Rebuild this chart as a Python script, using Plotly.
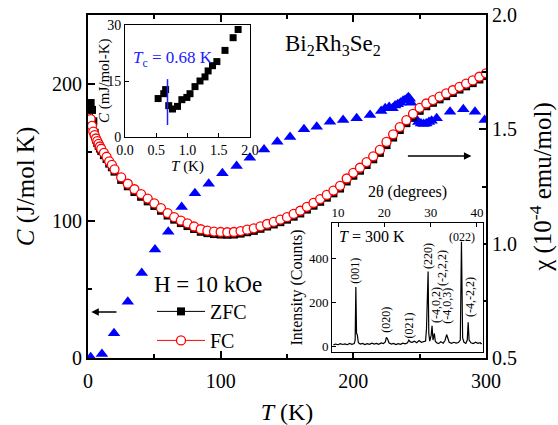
import plotly.graph_objects as go

FONT = "Times New Roman, Liberation Serif, serif"

# ---------------- main data ----------------
# Specific heat C (J/mol K) vs T (K)
T_C = [2, 10.5, 19.6, 30, 40.5, 50.5, 60.5, 70.6, 80.6, 91, 101.3, 112, 122, 132.7, 142.7,
       152.3, 162.8, 172.4, 182.4, 192.3, 202.5, 212.6, 221, 224, 227, 229.5, 231.5, 233.5,
       235.5, 237.5, 239, 240.5, 241.5, 242.5, 243.5, 245, 247, 249, 251, 253, 255, 257, 259,
       262.8, 272.9, 282.9, 291.7, 299]
C_val = [0.5, 3, 18, 41, 62, 79, 92, 110, 120, 127, 134.6, 140, 146, 152, 157.7,
         161, 166.7, 168.6, 172.2, 173.5, 174.7, 177.1, 180, 182, 183, 182, 184, 185,
         186, 187.5, 188, 189, 190, 189, 186, 177, 174, 172, 171, 170.5, 171, 172, 173,
         174.7, 179.5, 181.3, 179.5, 173.5]

# Susceptibility chi (1e-4 emu/mol) vs T (K)
T_chi = [2, 3, 4, 5, 6, 7, 8, 9, 10, 12, 14, 16, 18, 20, 25, 30, 35, 40, 45, 50, 55, 60, 65,
         70, 75, 80, 85, 90, 95, 100, 105, 110, 115, 120, 125, 130, 135, 140, 145, 150, 155,
         160, 165, 170, 175, 180, 185, 190, 195, 200, 205, 210, 215, 220, 225, 230, 235, 240,
         245, 250, 255, 260, 265, 270, 275, 280, 285, 290, 295, 300]
chi_FC = [1.545, 1.515, 1.49, 1.475, 1.46, 1.448, 1.436, 1.425, 1.415, 1.397, 1.38, 1.36,
          1.345, 1.325, 1.29, 1.262, 1.238, 1.217, 1.197, 1.176, 1.155, 1.134, 1.116, 1.101,
          1.089, 1.075, 1.063, 1.057, 1.053, 1.051, 1.05, 1.051, 1.055, 1.061, 1.067, 1.076,
          1.086, 1.095, 1.105, 1.116, 1.13, 1.144, 1.161, 1.178, 1.195, 1.213, 1.232, 1.253,
          1.285, 1.31, 1.332, 1.357, 1.382, 1.41, 1.445, 1.478, 1.51, 1.54, 1.568, 1.594,
          1.613, 1.628, 1.643, 1.657, 1.671, 1.686, 1.70, 1.714, 1.73, 1.745]
chi_ZFC = [1.615, 1.585, 1.535, 1.485, 1.455, 1.44, 1.428, 1.416, 1.405, 1.387, 1.37, 1.35,
           1.334, 1.315, 1.279, 1.251, 1.226, 1.205, 1.185, 1.165, 1.144, 1.123, 1.105, 1.09,
           1.077, 1.064, 1.052, 1.046, 1.042, 1.04, 1.039, 1.04, 1.044, 1.05, 1.056, 1.065,
           1.075, 1.084, 1.094, 1.105, 1.118, 1.132, 1.149, 1.166, 1.183, 1.201, 1.22, 1.241,
           1.272, 1.297, 1.319, 1.344, 1.369, 1.397, 1.431, 1.464, 1.497, 1.527, 1.555, 1.581,
           1.601, 1.616, 1.631, 1.645, 1.659, 1.674, 1.688, 1.702, 1.718, 1.733]

# ---------------- inset 1: low-T specific heat ----------------
T_low = [0.53, 0.62, 0.65, 0.70, 0.76, 0.84, 0.91, 0.99, 1.04, 1.12, 1.20, 1.28, 1.33, 1.40,
         1.47, 1.60, 1.73, 1.81]
C_low = [10.3, 11.6, 12.7, 8.4, 7.5, 8.2, 10.0, 10.6, 11.6, 13.5, 15.0, 16.1, 17.7, 19.1,
         20.2, 23.2, 26.6, 28.8]
Tc = 0.68

# ---------------- inset 2: XRD ----------------
two_theta = [9.0, 9.5, 10.0, 10.5, 11.0, 11.5, 12.0, 12.5, 13.0, 13.5, 13.7, 13.85, 14.0, 14.15,
             14.4, 14.8, 15.3, 15.8, 16.3, 16.8, 17.3, 17.8, 18.3, 18.8, 19.3, 19.8, 20.2,
             20.45, 20.7, 21.0, 21.5, 22.0, 22.5, 23.0, 23.5, 24.0, 24.5, 25.0, 25.3, 25.6,
             26.0, 26.5, 27.0, 27.5, 28.0, 28.5, 28.9, 29.1, 29.3, 29.45, 29.6, 29.8, 30.1,
             30.3, 30.5, 30.8, 31.0, 31.3, 31.7, 32.2, 32.7, 33.1, 33.45, 33.7, 34.0, 34.5,
             35.0, 35.5, 36.0, 36.4, 36.65, 36.9, 37.2, 37.6, 37.9, 38.1, 38.3, 38.7, 39.2,
             39.7, 40.2, 40.7, 41.0]
counts = [8, 12, 9, 14, 10, 13, 9, 15, 11, 14, 30, 270, 60, 55,
          18, 12, 15, 10, 14, 11, 16, 12, 15, 11, 17, 14, 22,
          42, 35, 18, 12, 15, 10, 14, 11, 16, 13, 18, 30, 22,
          20, 25, 18, 28, 20, 24, 26, 80, 200, 340, 60, 25, 50,
          95, 30, 60, 25, 18, 14, 22, 16, 28, 55, 35, 20, 15,
          20, 16, 19, 30, 475, 40, 20, 15, 30, 110, 30, 18, 14,
          20, 15, 18, 12]
peak_labels = ["(001)", "(020)", "(021)", "(220)", "(-4,0,2)", "(-2,2,2)", "(-4,0,3)", "(-4,-2,2)"]
peak_label_x = [13.7, 20.5, 25.3, 29.4, 31.0, 32.4, 33.5, 38.5]
peak_label_y = [345, 120, 95, 410, 190, 355, 185, 225]

fig = go.Figure()

fig.add_trace(go.Scatter(x=T_C, y=C_val, mode="markers", showlegend=False,
                         marker=dict(symbol="triangle-up", size=11, color="#0000ff"),
                         xaxis="x", yaxis="y"))
fig.add_trace(go.Scatter(x=T_chi, y=chi_ZFC, mode="lines+markers", name="ZFC",
                         line=dict(color="black", width=1),
                         marker=dict(symbol="square", size=8, color="black"),
                         xaxis="x", yaxis="y2"))
fig.add_trace(go.Scatter(x=T_chi, y=chi_FC, mode="lines+markers", name="FC",
                         line=dict(color="red", width=1),
                         marker=dict(symbol="circle", size=9, color="white",
                                     line=dict(color="red", width=1.3)),
                         xaxis="x", yaxis="y2"))
fig.add_trace(go.Scatter(x=T_low, y=C_low, mode="markers", showlegend=False,
                         marker=dict(symbol="square", size=7, color="black"),
                         xaxis="x3", yaxis="y3"))
fig.add_trace(go.Scatter(x=two_theta, y=counts, mode="lines", showlegend=False,
                         line=dict(color="black", width=1.2),
                         xaxis="x4", yaxis="y4"))

tickfont = dict(family=FONT, size=20, color="black")
common = dict(showline=True, linecolor="black", linewidth=1.8, ticks="inside", ticklen=7,
              tickwidth=1.5, tickcolor="black", showgrid=False, zeroline=False,
              tickfont=tickfont, automargin=False)

W0, W1, H0, H1 = 88, 486, 15, 358
def px(xp):
    return (xp - W0) / (W1 - W0)
def py(yp):
    return (H1 - yp) / (H1 - H0)

small = dict(showline=True, linecolor="black", linewidth=1, mirror=True, ticks="inside",
             ticklen=4, tickwidth=1, tickcolor="black", showgrid=False, zeroline=False,
             automargin=False)

fig.update_layout(
    width=558, height=425,
    margin=dict(l=88, r=72, t=15, b=67),
    paper_bgcolor="white", plot_bgcolor="white",
    font=dict(family=FONT, color="black"),
    xaxis=dict(range=[0, 300], tickvals=[0, 100, 200, 300], mirror="ticks",
               ticklabelstandoff=4,
               minor=dict(tickvals=[50, 150, 250], ticks="inside", ticklen=4, tickcolor="black"),
               title=dict(text="<i>T</i> (K)", font=dict(family=FONT, size=24), standoff=13),
               **common),
    yaxis=dict(range=[0, 250], tickvals=[0, 100, 200],
               minor=dict(tickvals=[50, 150], ticks="inside", ticklen=4, tickcolor="black"),
               title=dict(text="<i>C</i> (J/mol K)", font=dict(family=FONT, size=25), standoff=10),
               **common),
    yaxis2=dict(range=[0.5, 2.0], tickvals=[0.5, 1.0, 1.5, 2.0], tickformat=".1f",
                overlaying="y", side="right", anchor="x",
                minor=dict(tickvals=[0.75, 1.25, 1.75], ticks="inside", ticklen=4, tickcolor="black"),
                title=dict(text="χ (10<sup>-4</sup> emu/mol)", font=dict(family=FONT, size=25), standoff=18),
                **common),
    xaxis3=dict(domain=[px(125), px(250)], anchor="y3", range=[0, 2.0],
                tickvals=[0, 0.5, 1.0, 1.5, 2.0], tickformat=".1f",
                tickfont=dict(family=FONT, size=14, color="black"),
                title=dict(text="<i>T</i> (K)", font=dict(family=FONT, size=15), standoff=1),
                **small),
    yaxis3=dict(domain=[py(137), py(25)], anchor="x3", range=[0, 30],
                tickvals=[0, 15, 30],
                tickfont=dict(family=FONT, size=14, color="black"),
                **small),
    xaxis4=dict(domain=[px(332), px(483)], anchor="y4", side="top", range=[8.7, 41.3],
                tickvals=[10, 20, 30, 40],
                tickfont=dict(family=FONT, size=13, color="black"),
                title=dict(text="2θ (degrees)", font=dict(family=FONT, size=16), standoff=3),
                **small),
    yaxis4=dict(domain=[py(352), py(223)], anchor="x4", range=[-24, 560],
                tickvals=[0, 200, 400],
                tickfont=dict(family=FONT, size=13, color="black"),
                title=dict(text="Intensity (Counts)", font=dict(family=FONT, size=16), standoff=2),
                **small),
    legend=dict(x=px(152), y=py(262), xanchor="left", yanchor="top",
                bgcolor="rgba(0,0,0,0)", font=dict(family=FONT, size=20),
                title=dict(text="H = 10 kOe", font=dict(family=FONT, size=23)),
                itemwidth=48, tracegroupgap=0),
)

ann = []
ann.append(dict(text="Bi<sub>2</sub>Rh<sub>3</sub>Se<sub>2</sub>", x=147, y=228, xref="x", yref="y",
                xanchor="left", yanchor="middle", showarrow=False,
                font=dict(family=FONT, size=23, color="black")))
ann.append(dict(x=2.5, y=33.5, xref="x", yref="y", ax=22.6, ay=33.5, axref="x", ayref="y",
                text="", showarrow=True, arrowhead=2, arrowsize=1, arrowwidth=1.5, arrowcolor="black"))
ann.append(dict(x=289, y=1.383, xref="x", yref="y2", ax=240, ay=1.383, axref="x", ayref="y2",
                text="", showarrow=True, arrowhead=2, arrowsize=1, arrowwidth=1.5, arrowcolor="black"))
# inset 1 y-axis title
ann.append(dict(text="<i>C</i> (mJ/mol-K)", x=px(104), y=py(81), xref="paper", yref="paper",
                textangle=-90, xanchor="center", yanchor="middle", showarrow=False,
                font=dict(family=FONT, size=15, color="black")))
ann.append(dict(text="<i>T</i><sub>c</sub> = 0.68 K", x=0.1, y=20.8, xref="x3", yref="y3",
                xanchor="left", yanchor="middle", showarrow=False,
                font=dict(family=FONT, size=17, color="#2020ff")))
ann.append(dict(text="<i>T</i> = 300 K", x=9.7, y=497, xref="x4", yref="y4",
                xanchor="left", yanchor="middle", showarrow=False,
                font=dict(family=FONT, size=16, color="black")))
for lab, lx, ly in zip(peak_labels, peak_label_x, peak_label_y):
    ann.append(dict(text=lab, x=lx, y=ly, xref="x4", yref="y4", textangle=-90,
                    xanchor="center", yanchor="middle", showarrow=False,
                    font=dict(family=FONT, size=12, color="black")))
ann.append(dict(text="(022)", x=36.7, y=498, xref="x4", yref="y4",
                xanchor="center", yanchor="middle", showarrow=False,
                font=dict(family=FONT, size=12, color="black")))
fig.update_layout(annotations=ann)

fig.add_shape(type="line", xref="x3", yref="y3", x0=Tc, x1=Tc, y0=3.2, y1=15.5,
              line=dict(color="#2020ff", width=1.5))

fig.write_html("out.html")
